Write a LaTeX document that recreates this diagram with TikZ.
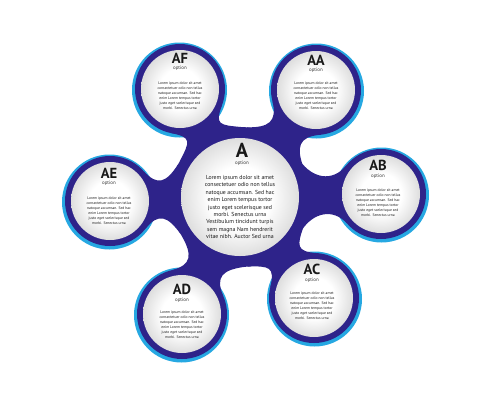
\documentclass[tikz,border=0pt]{standalone}
\usepackage{fontspec}
\setmainfont{PT Sans}
\usetikzlibrary{calc,positioning}

\definecolor{ringdark}{RGB}{46,35,138}
\definecolor{ringcyan}{RGB}{38,168,226}
\pgfdeclareradialshading{discshade}{\pgfpoint{0bp}{0bp}}{color(0bp)=(white); color(13bp)=(white); color(25bp)=(black!13); color(50bp)=(black!13)}

% arm from the centre disc A to a satellite disc
\newcommand{\armto}[1]{%
\fill[ringdark] ($(A)!1.4cm!30:(#1)$) .. controls ($(A)!1.5cm!13:(#1)$) and ($(#1)!1.0cm!-15:(A)$) .. ($(#1)!0.9cm!-40:(A)$)
 -- ($(#1)!0.9cm!40:(A)$) .. controls ($(#1)!1.0cm!15:(A)$) and ($(A)!1.5cm!-13:(#1)$) .. ($(A)!1.4cm!-30:(#1)$) -- cycle;}

\begin{document}
\begin{tikzpicture}
[
x=0.02cm, y=-0.02cm,
outerring/.style={fill=ringcyan},
darkdisc/.style={fill=ringdark},
innerdisc/.style={shading=discshade},
titlelabel/.style={font=\bfseries\fontsize{8.3}{8.3}\selectfont, text=black!90, inner sep=0pt},
bigtitle/.style={font=\bfseries\fontsize{11.5}{11.5}\selectfont, text=black!90, inner sep=0pt},
optionlabel/.style={font=\fontsize{2.8}{3}\selectfont, text=black!80, inner sep=0pt},
smalltext/.style={font=\fontsize{2.1}{2.8}\selectfont, align=center, text=black!90, inner sep=0pt},
bigtext/.style={font=\fontsize{3.3}{4.2}\selectfont, align=center, text=black!90, inner sep=0pt},
]
\useasboundingbox[fill=white] (0,0) rectangle (500,400);
%centres of the discs
\coordinate (A) at (240,197);
\coordinate (AF) at (180,89);
\coordinate (AA) at (316,90);
\coordinate (AB) at (381,194);
\coordinate (AC) at (314,298);
\coordinate (AD) at (182,314);
\coordinate (AE) at (110,201);
%draw the cyan rings
\fill[outerring] ($(AF)+(-0.5,1)$) circle[radius=47.5];
\fill[outerring] ($(AA)+(0.5,1)$) circle[radius=47.5];
\fill[outerring] ($(AB)+(0.5,1)$) circle[radius=47.5];
\fill[outerring] ($(AC)+(0.5,1)$) circle[radius=47.5];
\fill[outerring] ($(AD)+(-0.5,1)$) circle[radius=47.5];
\fill[outerring] ($(AE)+(-0.5,1)$) circle[radius=47.5];
%draw the dark discs
\fill[darkdisc] (A) circle[radius=70];
\fill[darkdisc] (AF) circle[radius=45];
\fill[darkdisc] (AA) circle[radius=45];
\fill[darkdisc] (AB) circle[radius=45];
\fill[darkdisc] (AC) circle[radius=45];
\fill[darkdisc] (AD) circle[radius=45];
\fill[darkdisc] (AE) circle[radius=45];
%draw the arms
\armto{AF}
\armto{AA}
\armto{AB}
\armto{AC}
\armto{AD}
\armto{AE}
%draw the light inner discs
\shade[innerdisc] (A) circle[radius=59];
\shade[innerdisc] (AF) circle[radius=39];
\shade[innerdisc] (AA) circle[radius=39];
\shade[innerdisc] (AB) circle[radius=39];
\shade[innerdisc] (AC) circle[radius=39];
\shade[innerdisc] (AD) circle[radius=39];
\shade[innerdisc] (AE) circle[radius=39];
%centre texts
\node[bigtitle] (A-title) at ($(A)+(2,-47)$) {A};
\node[optionlabel, below=2pt of A-title] (A-option) {option};
\node[bigtext] (A-text) at ($(A)+(0,10)$) {Lorem ipsum dolor sit amet\\consectetuer odio non tellus\\natoque accumsan. Sed hac\\enim Lorem tempus tortor\\justo eget scelerisque sed\\morbi. Senectus urna\\Vestibulum tincidunt turpis\\sem magna Nam hendrerit\\vitae nibh. Auctor Sed urna};
%satellite texts
\node[titlelabel] (AF-title) at ($(AF)+(0,-31)$) {AF};
\node[optionlabel, below=1.5pt of AF-title] (AF-option) {option};
\node[smalltext] (AF-text) at ($(AF)+(0,7)$) {Lorem ipsum dolor sit amet\\consectetuer odio non tellus\\natoque accumsan. Sed hac\\enim Lorem tempus tortor\\justo eget scelerisque sed\\morbi. Senectus urna};
\node[titlelabel] (AA-title) at ($(AA)+(0,-30)$) {AA};
\node[optionlabel, below=1.5pt of AA-title] (AA-option) {option};
\node[smalltext] (AA-text) at ($(AA)+(0,6)$) {Lorem ipsum dolor sit amet\\consectetuer odio non tellus\\natoque accumsan. Sed hac\\enim Lorem tempus tortor\\justo eget scelerisque sed\\morbi. Senectus urna};
\node[titlelabel] (AB-title) at ($(AB)+(-3,-29)$) {AB};
\node[optionlabel, below=1.5pt of AB-title] (AB-option) {option};
\node[smalltext] (AB-text) at ($(AB)+(-3,9)$) {Lorem ipsum dolor sit amet\\consectetuer odio non tellus\\natoque accumsan. Sed hac\\enim Lorem tempus tortor\\justo eget scelerisque sed\\morbi. Senectus urna};
\node[titlelabel] (AC-title) at ($(AC)+(-2,-29)$) {AC};
\node[optionlabel, below=1.5pt of AC-title] (AC-option) {option};
\node[smalltext] (AC-text) at ($(AC)+(-2,8)$) {Lorem ipsum dolor sit amet\\consectetuer odio non tellus\\natoque accumsan. Sed hac\\enim Lorem tempus tortor\\justo eget scelerisque sed\\morbi. Senectus urna};
\node[titlelabel] (AD-title) at ($(AD)+(0,-25)$) {AD};
\node[optionlabel, below=1.5pt of AD-title] (AD-option) {option};
\node[smalltext] (AD-text) at ($(AD)+(0,11)$) {Lorem ipsum dolor sit amet\\consectetuer odio non tellus\\natoque accumsan. Sed hac\\enim Lorem tempus tortor\\justo eget scelerisque sed\\morbi. Senectus urna};
\node[titlelabel] (AE-title) at ($(AE)+(-1,-28)$) {AE};
\node[optionlabel, below=1.5pt of AE-title] (AE-option) {option};
\node[smalltext] (AE-text) at ($(AE)+(-1,10)$) {Lorem ipsum dolor sit amet\\consectetuer odio non tellus\\natoque accumsan. Sed hac\\enim Lorem tempus tortor\\justo eget scelerisque sed\\morbi. Senectus urna};
\end{tikzpicture}
\end{document}
